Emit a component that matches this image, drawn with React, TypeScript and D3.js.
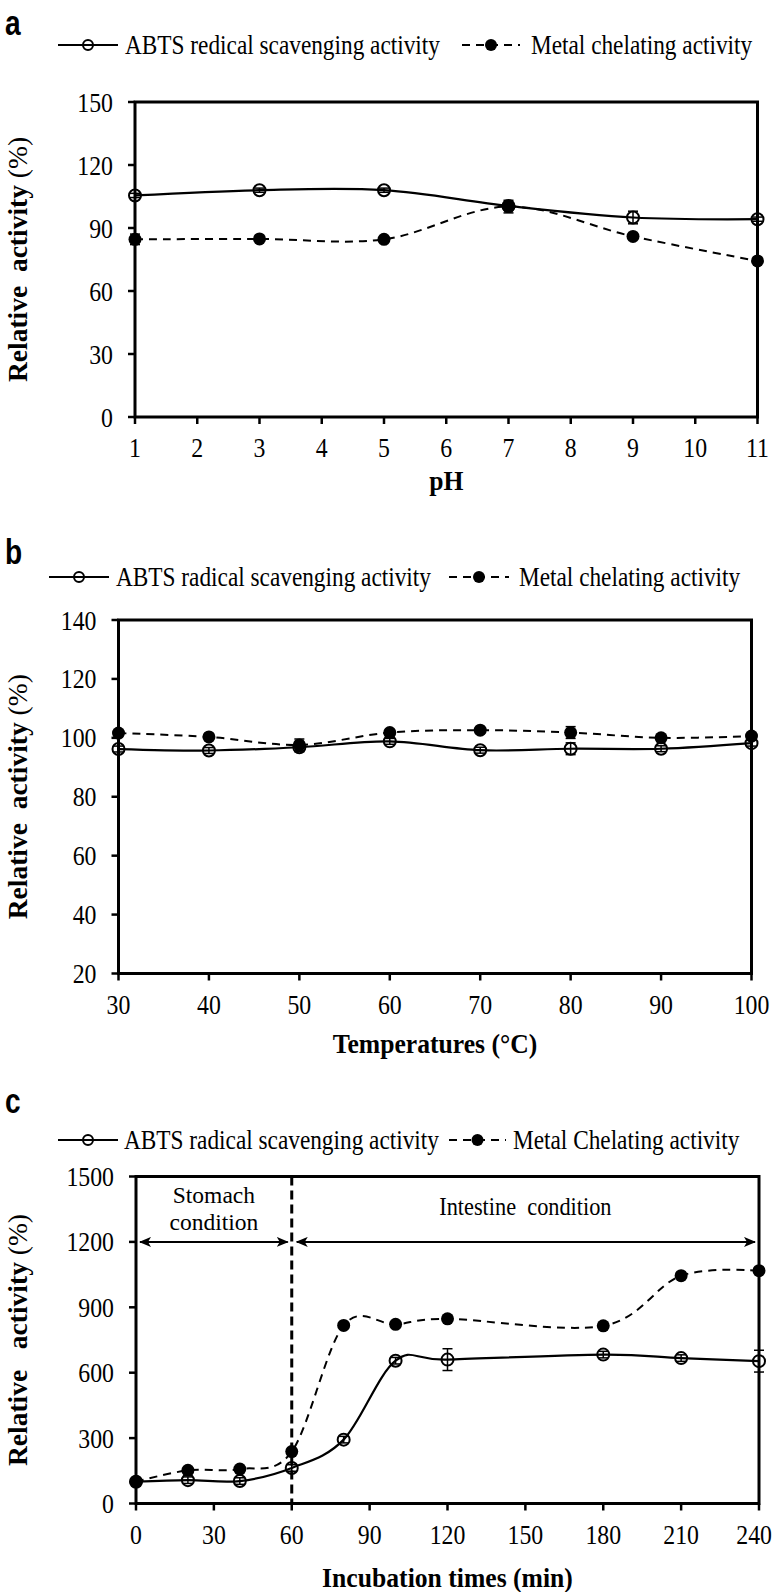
import * as d3 from "d3";

// panel a: pH stability
const phX = [1, 3, 5, 7, 9, 11];
const phAbts = [105.5, 108, 108, 100.5, 95, 94.2];
const phAbtsErr = [1, 1, 1, 1, 3, 1];
const phMetal = [84.6, 84.8, 84.6, 100.2, 86, 74.3];
const phMetalErr = [2.5, 1, 1, 3, 1, 1];
const phTicksX = [1, 2, 3, 4, 5, 6, 7, 8, 9, 10, 11];
const phTicksY = [0, 30, 60, 90, 120, 150];

// panel b: thermal stability
const tempX = [30, 40, 50, 60, 70, 80, 90, 100];
const tempAbts = [96.2, 95.7, 96.8, 98.8, 95.8, 96.3, 96.3, 98.2];
const tempAbtsErr = [1, 1, 1.5, 1, 1, 2, 1, 1];
const tempMetal = [101.6, 100.3, 97.6, 101.8, 102.6, 101.8, 100, 100.6];
const tempMetalErr = [1, 1, 2, 1, 1, 2, 1, 1];
const tempTicksX = [30, 40, 50, 60, 70, 80, 90, 100];
const tempTicksY = [20, 40, 60, 80, 100, 120, 140];

// panel c: simulated GI digestion
const timeX = [0, 20, 40, 60, 80, 100, 120, 180, 210, 240];
const timeAbts = [100, 107, 103, 163, 293, 655, 660, 683, 667, 653];
const timeAbtsErr = [10, 15, 15, 15, 15, 15, 50, 15, 15, 50];
const timeMetal = [100, 152, 158, 238, 817, 822, 847, 815, 1045, 1068];
const timeMetalErr = [10, 10, 10, 10, 10, 10, 10, 10, 10, 10];
const timeTicksX = [0, 30, 60, 90, 120, 150, 180, 210, 240];
const timeTicksY = [0, 300, 600, 900, 1200, 1500];

const serif = "'Liberation Serif', 'Times New Roman', serif";
const sans = "'Liberation Sans', Arial, sans-serif";

// legend layout: [line start, line end, text x]
const panels = [
    {
        letter: "a", letterY: 35,
        x0: 135, x1: 757.5, top: 102, bottom: 417,
        xDomain: [1, 11], yDomain: [0, 150],
        xTicks: phTicksX, yTicks: phTicksY,
        xs: phX, abts: phAbts, abtsErr: phAbtsErr, metal: phMetal, metalErr: phMetalErr,
        legendY: 45, leg1: [58, 118, 125], leg2: [462, 520, 531],
        abtsLabel: "ABTS redical scavenging activity", metalLabel: "Metal chelating activity",
        xTitle: "pH", xTitleY: 490, yTitle: "Relative  activity ",
    },
    {
        letter: "b", letterY: 564,
        x0: 118.5, x1: 751.5, top: 620, bottom: 973.5,
        xDomain: [30, 100], yDomain: [20, 140],
        xTicks: tempTicksX, yTicks: tempTicksY,
        xs: tempX, abts: tempAbts, abtsErr: tempAbtsErr, metal: tempMetal, metalErr: tempMetalErr,
        legendY: 577, leg1: [49, 109, 116], leg2: [449, 509, 519],
        abtsLabel: "ABTS radical scavenging activity", metalLabel: "Metal chelating activity",
        xTitle: "Temperatures (°C)", xTitleY: 1053, yTitle: "Relative  activity ",
    },
    {
        letter: "c", letterY: 1113,
        x0: 136, x1: 759, top: 1176.5, bottom: 1503.5,
        xDomain: [0, 240], yDomain: [0, 1500],
        xTicks: timeTicksX, yTicks: timeTicksY,
        xs: timeX, abts: timeAbts, abtsErr: timeAbtsErr, metal: timeMetal, metalErr: timeMetalErr,
        legendY: 1140, leg1: [58, 118, 124], leg2: [449, 506, 513],
        abtsLabel: "ABTS radical scavenging activity", metalLabel: "Metal Chelating activity",
        xTitle: "Incubation times (min)", xTitleY: 1587, yTitle: "Relative   activity ",
    },
];

const tickFont = 28;
const tickSx = 0.85;

const Panel = ({ p }) => {
    const x = d3.scaleLinear().domain(p.xDomain).range([p.x0, p.x1]);
    const y = d3.scaleLinear().domain(p.yDomain).range([p.bottom, p.top]);

    const line = d3.line()
        .x((d) => x(d[0]))
        .y((d) => y(d[1]))
        .curve(d3.curveCardinal.tension(0));

    const abtsPts = p.xs.map((v, i) => [v, p.abts[i]]);
    const metalPts = p.xs.map((v, i) => [v, p.metal[i]]);
    const cx = (p.x0 + p.x1) / 2;
    const cy = (p.top + p.bottom) / 2;

    const errBars = (vals, errs, key) => p.xs.map((v, i) => {
        const px = x(v), lo = y(vals[i] - errs[i]), hi = y(vals[i] + errs[i]);
        return <g key={key + i} stroke="#000" strokeWidth={1.5}>
            <line x1={px} x2={px} y1={lo} y2={hi} />
            <line x1={px - 5} x2={px + 5} y1={lo} y2={lo} />
            <line x1={px - 5} x2={px + 5} y1={hi} y2={hi} />
        </g>;
    });

    // keep the last x label inside the page
    const xLabelPos = (t) => {
        const half = String(t).length * 0.25 * tickFont * tickSx;
        return Math.min(x(t), 772 - half);
    };

    return <g>
        {/* panel letter */}
        <text transform={`translate(5,${p.letterY}) scale(0.78,1)`} fontFamily={sans} fontWeight="bold" fontSize={36}>{p.letter}</text>

        {/* legend */}
        <g fontFamily={serif} fontSize={23.3}>
            <line x1={p.leg1[0]} x2={p.leg1[1]} y1={p.legendY} y2={p.legendY} stroke="#000" strokeWidth={2.2} />
            <circle cx={(p.leg1[0] + p.leg1[1]) / 2} cy={p.legendY} r={5} fill="none" stroke="#000" strokeWidth={2} />
            <text transform={`translate(${p.leg1[2]},${p.legendY + 9}) scale(1,1.16)`}>{p.abtsLabel}</text>
            <line x1={p.leg2[0]} x2={p.leg2[1]} y1={p.legendY} y2={p.legendY} stroke="#000" strokeWidth={2.2} strokeDasharray="8,6" />
            <circle cx={(p.leg2[0] + p.leg2[1]) / 2} cy={p.legendY} r={6} fill="#000" />
            <text transform={`translate(${p.leg2[2]},${p.legendY + 9}) scale(1,1.16)`}>{p.metalLabel}</text>
        </g>

        {/* ticks */}
        <g stroke="#000" strokeWidth={2.5}>
            {p.yTicks.map((t) => <line key={"yt" + t} x1={p.x0 - 7} x2={p.x0} y1={y(t)} y2={y(t)} />)}
            {p.xTicks.map((t) => <line key={"xt" + t} x1={x(t)} x2={x(t)} y1={p.bottom} y2={p.bottom + 7} />)}
        </g>
        <g fontFamily={serif} fontSize={tickFont}>
            {p.yTicks.map((t) => <text key={"yl" + t} transform={`translate(${p.x0 - 22},${y(t) + 9.5}) scale(${tickSx},1)`}
                textAnchor="end">{t}</text>)}
            {p.xTicks.map((t) => <text key={"xl" + t} transform={`translate(${xLabelPos(t)},${p.bottom + 40}) scale(${tickSx},1)`}
                textAnchor="middle">{t}</text>)}
        </g>

        {/* c only: stomach / intestine annotation */}
        {p.letter === "c" && <g>
            <line x1={x(60)} x2={x(60)} y1={p.top} y2={p.bottom} stroke="#000" strokeWidth={3} strokeDasharray="9,5" />
            <line x1={x(0) + 4} x2={x(60) - 4} y1={y(1200)} y2={y(1200)} stroke="#000" strokeWidth={2}
                markerStart="url(#arrL)" markerEnd="url(#arrR)" />
            <line x1={x(60) + 5} x2={x(240) - 4} y1={y(1200)} y2={y(1200)} stroke="#000" strokeWidth={2}
                markerStart="url(#arrL)" markerEnd="url(#arrR)" />
            <g fontFamily={serif} fontSize={23.5} textAnchor="middle">
                <text x={(x(0) + x(60)) / 2} y={1203}>Stomach</text>
                <text x={(x(0) + x(60)) / 2} y={1230}>condition</text>
                <text transform={`translate(${(x(60) + x(240)) / 2},1215) scale(0.95,1.1)`} style={{ whiteSpace: "pre" }}>Intestine  condition</text>
            </g>
        </g>}

        {/* series */}
        <path d={line(metalPts)} fill="none" stroke="#000" strokeWidth={2} strokeDasharray="8,6" />
        <path d={line(abtsPts)} fill="none" stroke="#000" strokeWidth={2.2} />
        {errBars(p.metal, p.metalErr, "me")}
        {errBars(p.abts, p.abtsErr, "ae")}
        {metalPts.map((d, i) => <circle key={"m" + i} cx={x(d[0])} cy={y(d[1])} r={6.5} fill="#000" />)}
        {abtsPts.map((d, i) => <circle key={"a" + i} cx={x(d[0])} cy={y(d[1])} r={6} fill="none" stroke="#000" strokeWidth={2} />)}

        {/* frame */}
        <rect x={p.x0} y={p.top} width={p.x1 - p.x0} height={p.bottom - p.top} fill="none" stroke="#000" strokeWidth={3} />

        {/* axis titles */}
        <text transform={`translate(${cx},${p.xTitleY}) scale(0.95,1)`} textAnchor="middle" fontFamily={serif} fontWeight="bold" fontSize={27}>{p.xTitle}</text>
        <text transform={`translate(27,${cy}) rotate(-90)`} textAnchor="middle" fontFamily={serif} fontSize={27.5}
            style={{ whiteSpace: "pre" }}>
            <tspan fontWeight="bold">{p.yTitle}</tspan><tspan>(%)</tspan>
        </text>
    </g>;
};

const App = () => {
    return <svg width={773} height={1592} style={{ position: "absolute", left: 0, top: 0, background: "#fff" }}>
        <defs>
            <marker id="arrR" viewBox="0 0 12 10" refX={11} refY={5} markerWidth={12} markerHeight={10}
                markerUnits="userSpaceOnUse" orient="auto">
                <path d="M0,0 L12,5 L0,10 L3,5 Z" fill="#000" />
            </marker>
            <marker id="arrL" viewBox="0 0 12 10" refX={1} refY={5} markerWidth={12} markerHeight={10}
                markerUnits="userSpaceOnUse" orient="auto">
                <path d="M12,0 L0,5 L12,10 L9,5 Z" fill="#000" />
            </marker>
        </defs>
        <rect width={773} height={1592} fill="#fff" />
        {panels.map((p) => <Panel key={p.letter} p={p} />)}
    </svg>;
};

export default App;
